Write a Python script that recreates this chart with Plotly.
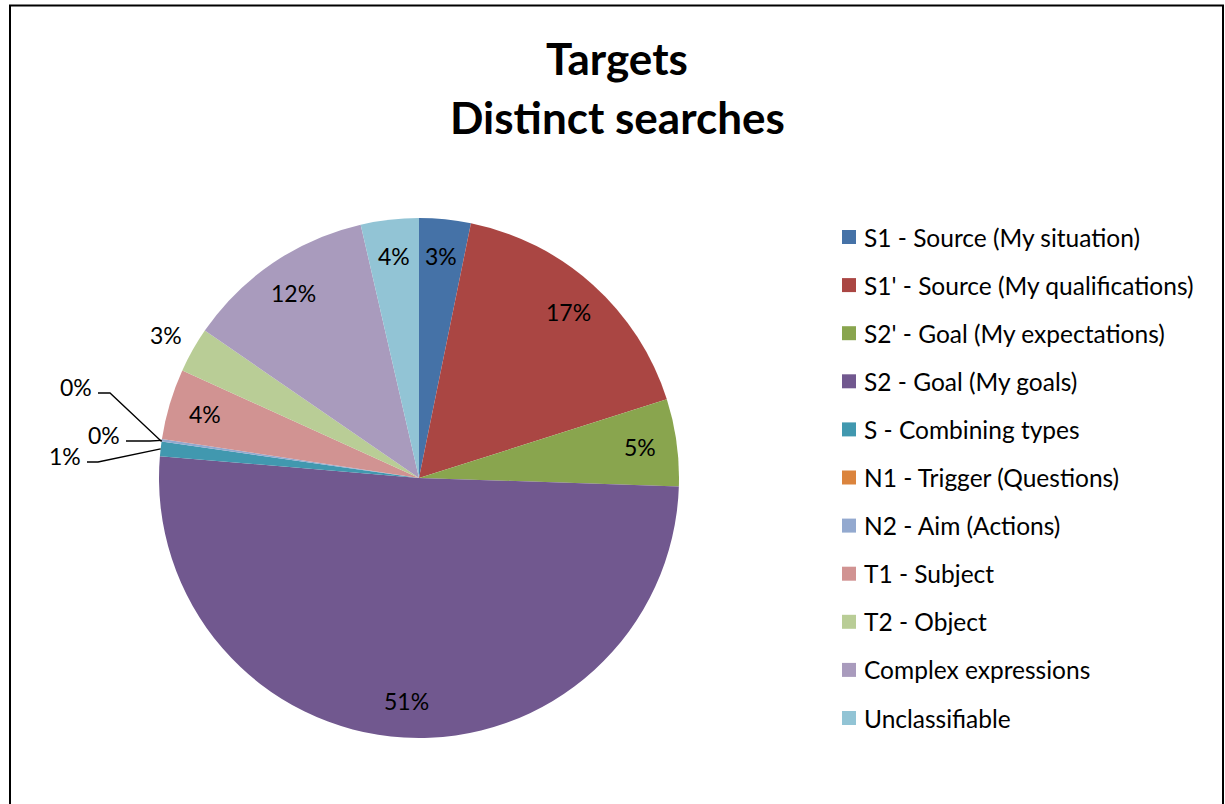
import math
import plotly.graph_objects as go

# Share of distinct searches per target type (percent)
categories = [
    "S1 - Source (My situation)",
    "S1' - Source (My qualifications)",
    "S2' - Goal (My expectations)",
    "S2 - Goal (My goals)",
    "S - Combining types",
    "N1 - Trigger (Questions)",
    "N2 - Aim (Actions)",
    "T1 - Subject",
    "T2 - Object",
    "Complex expressions",
    "Unclassifiable",
]
shares = [3.2, 16.9, 5.4, 50.8, 0.9, 0.0, 0.15, 4.4, 2.8, 11.8, 3.6]
colors = [
    "#4572A7", "#AA4643", "#89A54E", "#71588F", "#4198AF", "#DB843D",
    "#93A9CF", "#D19392", "#B9CD96", "#A99BBD", "#92C4D5",
]

# ---- layout geometry (pixels) ----
W, H = 1225, 804
CX, CY, R = 419, 478, 260
FONT = "Lato, 'Open Sans', sans-serif"

# label placement per slice: inside, outside, or with a leader line
label_modes = ["in", "in", "in", "in", "lead", "lead", "lead", "in", "out", "in", "in"]
# leader line: (start x, elbow x, y)
leaders = {4: (87, 98, 462), 5: (98, 110, 393), 6: (126, 150, 441)}


def px(x):
    return x / W


def py(y):
    return 1 - y / H


def polar(frac, r):
    a = 2 * math.pi * frac
    return CX + r * math.sin(a), CY - r * math.cos(a)


total = sum(shares)

fig = go.Figure(
    go.Pie(
        labels=categories,
        values=shares,
        sort=False,
        direction="clockwise",
        rotation=0,
        marker=dict(colors=colors, line=dict(width=0)),
        textinfo="none",
        hoverinfo="label+percent",
        domain=dict(x=[px(CX - R), px(CX + R)], y=[py(CY + R), py(CY - R)]),
        showlegend=False,
    )
)

annotations = []
shapes = []

# slice labels
cum = 0.0
for i, v in enumerate(shares):
    mid = (cum + v / 2) / total
    cum += v
    text = f"{round(100 * v / total)}%"
    mode = label_modes[i]
    if mode in ("in", "out"):
        x, y = polar(mid, 0.86 * R if mode == "in" else 1.12 * R)
        annotations.append(dict(
            x=px(x), y=py(y), xref="paper", yref="paper", text=text,
            showarrow=False, xanchor="center", yanchor="middle",
            font=dict(family=FONT, size=23, color="black"),
        ))
    else:
        sx, ex, ly = leaders[i]
        tx, ty = polar(mid, R)
        shapes.append(dict(
            type="path", xref="paper", yref="paper",
            path=f"M {px(sx)} {py(ly)} L {px(ex)} {py(ly)} L {px(tx)} {py(ty)}",
            line=dict(color="black", width=1.3),
        ))
        annotations.append(dict(
            x=px(sx - 4), y=py(ly - 6), xref="paper", yref="paper", text=text,
            showarrow=False, xanchor="right", yanchor="middle",
            font=dict(family=FONT, size=23, color="black"),
        ))

# legend
LEG_X, LEG_Y0, LEG_DY, SW = 842, 237, 48.1, 14
for i, (name, c) in enumerate(zip(categories, colors)):
    yc = LEG_Y0 + i * LEG_DY
    shapes.append(dict(
        type="rect", xref="paper", yref="paper",
        x0=px(LEG_X), x1=px(LEG_X + SW), y0=py(yc - SW / 2), y1=py(yc + SW / 2),
        fillcolor=c, line=dict(width=0),
    ))
    annotations.append(dict(
        x=px(LEG_X + SW + 6), y=py(yc), xref="paper", yref="paper", text=name,
        showarrow=False, xanchor="left", yanchor="middle",
        font=dict(family=FONT, size=24.5, color="black"),
    ))

# title
for line, yc in (("Targets", 58), ("Distinct searches", 117)):
    annotations.append(dict(
        x=px(617), y=py(yc), xref="paper", yref="paper", text=f"<b>{line}</b>",
        showarrow=False, xanchor="center", yanchor="middle",
        font=dict(family=FONT, size=44, color="black"),
    ))

# chart frame
shapes.append(dict(
    type="rect", xref="paper", yref="paper",
    x0=px(10), x1=px(1223), y0=py(812), y1=py(5.5),
    line=dict(color="black", width=2), fillcolor="rgba(0,0,0,0)",
))

fig.update_layout(
    width=W, height=H,
    margin=dict(l=0, r=0, t=0, b=0),
    paper_bgcolor="white", plot_bgcolor="white",
    annotations=annotations, shapes=shapes,
)

fig.write_html("out.html")
